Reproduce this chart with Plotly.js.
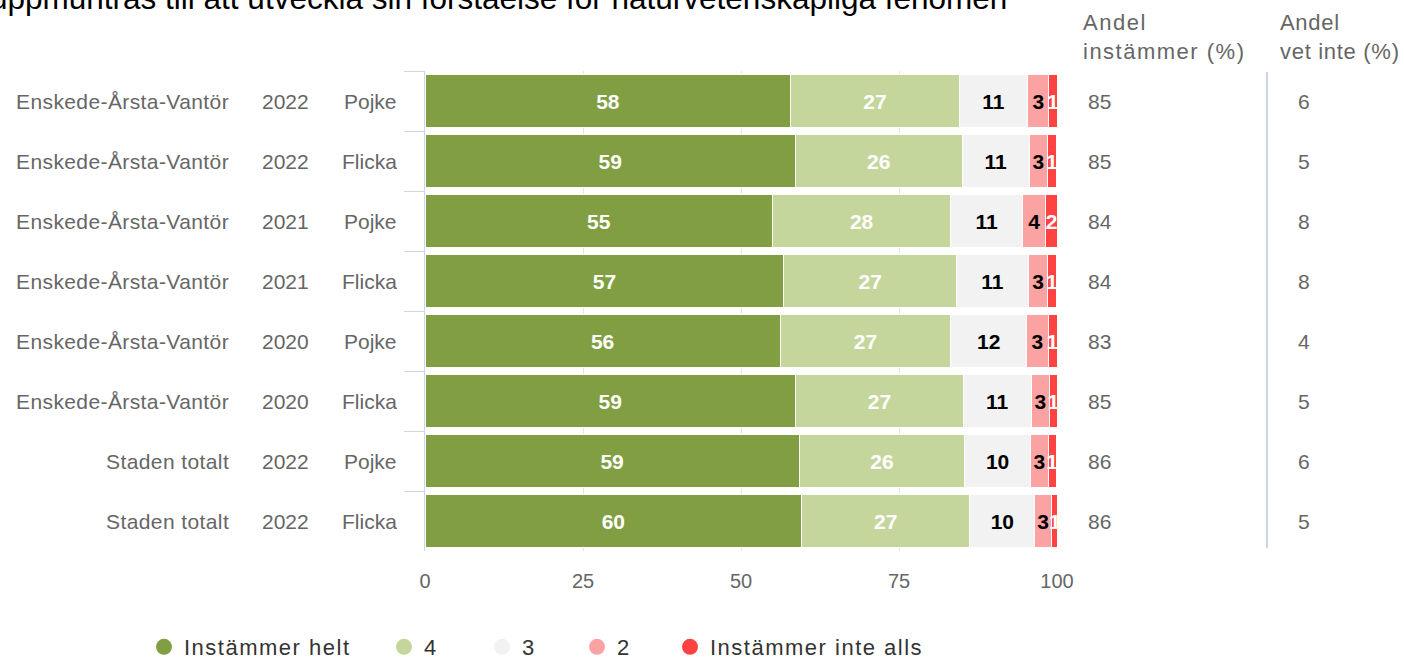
<!DOCTYPE html>
<html>
<head>
<meta charset="utf-8">
<script src="https://cdn.plot.ly/plotly-3.0.1.min.js"></script>
<style>
html,body{margin:0;padding:0;background:#fff;}
#chart{width:1404px;height:659px;}
.legendtext{letter-spacing:1.5px;}
</style>
</head>
<body>
<div id="chart"></div>
<script>
// ---- data ----
const titleText = 'uppmuntras till att utveckla sin förståelse för naturvetenskapliga fenomen';
const regions = ['Enskede-Årsta-Vantör','Enskede-Årsta-Vantör','Enskede-Årsta-Vantör','Enskede-Årsta-Vantör','Enskede-Årsta-Vantör','Enskede-Årsta-Vantör','Staden totalt','Staden totalt'];
const years = ['2022','2022','2021','2021','2020','2020','2022','2022'];
const genders = ['Pojke','Flicka','Pojke','Flicka','Pojke','Flicka','Pojke','Flicka'];
const seriesNames = ['Instämmer helt','4','3','2','Instämmer inte alls'];
const instammerHelt = [57.9, 58.6, 55.0, 56.8, 56.2, 58.6, 59.2, 59.6];
const svar4 = [26.6, 26.4, 28.2, 27.3, 27.0, 26.6, 26.2, 26.6];
const svar3 = [10.9, 10.6, 11.4, 11.4, 12.0, 10.7, 10.4, 10.3];
const svar2 = [3.3, 2.9, 3.6, 3.0, 3.4, 2.9, 2.8, 2.6];
const instammerInteAlls = [1.3, 1.4, 1.9, 1.4, 1.4, 1.3, 1.3, 1.2];
const andelInstammer = [85, 85, 84, 84, 83, 85, 86, 86];
const andelVetInte = [6, 5, 8, 8, 4, 5, 6, 5];
const xTicks = [0, 25, 50, 75, 100];
const colHeaders = ['Andel<br>instämmer (%)', 'Andel<br>vet inte (%)'];

// ---- styles ----
const FONT = 'Liberation Sans, Arial, Helvetica, sans-serif';
const colors = ['#819e43', '#c5d69c', '#f2f2f2', '#fba3a3', '#ff4343'];
const textColors = ['#ffffff', '#ffffff', '#000000', '#000000', '#ffffff'];
const legendWidths = [195, 53, 50, 48, 260];
const seriesData = [instammerHelt, svar4, svar3, svar2, instammerInteAlls];
const spaced = (t, ls) => t.split('<br>').map(p => '<span style="letter-spacing:' + ls + 'px">' + p + '</span>').join('<br>');

const keys = regions.map((r, i) => r + ' ' + years[i] + ' ' + genders[i]);

const traces = seriesData.map((vals, s) => ({
  type: 'bar',
  orientation: 'h',
  y: keys,
  x: vals,
  name: seriesNames[s],
  marker: {color: colors[s], line: {color: '#ffffff', width: 1}},
  texttemplate: '%{x:.0f}',
  textposition: 'inside',
  insidetextanchor: 'middle',
  textangle: 0,
  constraintext: 'none',
  textfont: {family: FONT, size: 21, color: textColors[s], weight: 'bold'},
  showlegend: false,
  hoverinfo: 'x+name'
}));

// legend entries with round symbols
seriesNames.forEach((n, s) => {
  traces.push({
    type: 'scatter', mode: 'markers', x: [null], y: [null],
    name: n, legendwidth: legendWidths[s],
    marker: {color: colors[s], size: 23, symbol: 'circle'},
    showlegend: true, hoverinfo: 'skip'
  });
});

const L = 425, R = 1057, T = 71, B = 551;
const pw = R - L, ph = B - T;
const px = X => (X - L) / pw;
const py = Y => (B - Y) / ph;

const annotations = [];
const lab = {family: FONT, size: 21, color: '#666666'};
keys.forEach((k, i) => {
  annotations.push({xref: 'paper', yref: 'y', x: px(231), y: k, text: spaced(regions[i], 0.4), xanchor: 'right', yanchor: 'middle', showarrow: false, font: lab});
  annotations.push({xref: 'paper', yref: 'y', x: px(285), y: k, text: years[i], xanchor: 'center', yanchor: 'middle', showarrow: false, font: lab});
  annotations.push({xref: 'paper', yref: 'y', x: px(399), y: k, text: genders[i], xanchor: 'right', yanchor: 'middle', showarrow: false, font: lab});
  annotations.push({xref: 'paper', yref: 'y', x: px(1086), y: k, text: String(andelInstammer[i]), xanchor: 'left', yanchor: 'middle', showarrow: false, font: lab});
  annotations.push({xref: 'paper', yref: 'y', x: px(1296), y: k, text: String(andelVetInte[i]), xanchor: 'left', yanchor: 'middle', showarrow: false, font: lab});
});
const hdr = {family: FONT, size: 22, color: '#666666'};
annotations.push({xref: 'paper', yref: 'paper', x: px(1081), y: py(8), text: spaced(colHeaders[0], 1.5), xanchor: 'left', yanchor: 'top', align: 'left', showarrow: false, font: hdr});
annotations.push({xref: 'paper', yref: 'paper', x: px(1278), y: py(8), text: spaced(colHeaders[1], 0.7), xanchor: 'left', yanchor: 'top', align: 'left', showarrow: false, font: hdr});
annotations.push({xref: 'paper', yref: 'paper', x: px(1009), y: py(18), text: titleText, xanchor: 'right', yanchor: 'bottom', showarrow: false, font: {family: FONT, size: 31.5, color: '#000000'}});

const layout = {
  width: 1404, height: 659,
  margin: {l: L, r: 1404 - R, t: T, b: 659 - B, pad: 0, autoexpand: false},
  paper_bgcolor: '#ffffff', plot_bgcolor: '#ffffff',
  font: {family: FONT, size: 20, color: '#666666'},
  barmode: 'stack',
  bargap: 0.12,
  uniformtext: {mode: 'show', minsize: 21},
  xaxis: {
    range: [0, 100], tickvals: xTicks, ticktext: xTicks.map(String),
    showgrid: true, gridcolor: '#e6e6e6', gridwidth: 1,
    zeroline: false, showline: false, ticks: '',
    tickfont: {family: FONT, size: 20, color: '#666666'},
    ticklabelstandoff: 16, fixedrange: true
  },
  yaxis: {
    type: 'category', categoryorder: 'array', categoryarray: keys,
    autorange: 'reversed',
    showticklabels: false, showgrid: false, zeroline: false,
    showline: true, linecolor: '#ccd6eb', linewidth: 1,
    ticks: 'outside', tickson: 'boundaries', ticklen: 20, tickcolor: '#ccd6eb', tickwidth: 1,
    fixedrange: true
  },
  showlegend: true,
  legend: {
    orientation: 'h', traceorder: 'normal',
    x: px(144), xanchor: 'left', y: py(647), yanchor: 'middle',
    font: {family: FONT, size: 22, color: '#333333'},
    itemsizing: 'trace', bgcolor: 'rgba(0,0,0,0)'
  },
  shapes: [{type: 'line', xref: 'paper', yref: 'paper', x0: px(1267), x1: px(1267), y0: py(72), y1: py(548), line: {color: '#ccd6eb', width: 2}}],
  annotations: annotations
};

Plotly.newPlot('chart', traces, layout, {displayModeBar: false, staticPlot: true});
</script>
</body>
</html>
